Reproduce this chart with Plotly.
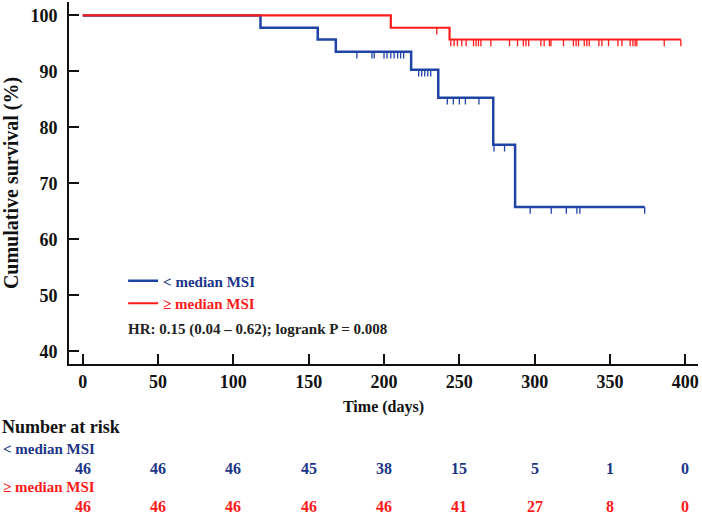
import numpy as np
import plotly.graph_objects as go

# ---------------- data ----------------
blue_name = "< median MSI"
red_name = "≥ median MSI"

blue_time = [0, 118, 156, 168, 218, 236, 272.5, 287, 373]
blue_surv = [100, 97.8, 95.7, 93.5, 90.3, 85.3, 76.9, 65.8, 65.8]
blue_censor = [182, 192, 193.5, 200, 202, 204.5, 206.7, 209, 211, 213,
               223, 225, 227, 229, 231,
               242, 246, 250, 254, 263,
               273, 280,
               297, 311, 321, 328, 330, 373]

red_time = [0, 204.5, 243.5, 397]
red_surv = [100, 97.8, 95.7, 95.7]
red_censor = [235, 244.3, 246.5, 248.7, 251.6, 254.5, 259.4, 261.1, 262.7, 264.3,
              270.9, 283.3, 288.6, 292.5, 294.2, 296, 304.1, 306.3, 309.8, 310.8,
              319.1, 325.7, 327.5, 329.1, 332.9, 334.6, 336.2, 342.6, 344.6, 349,
              355.2, 357.9, 363.4, 365.2, 366.7, 367.8, 386, 397]

risk_times = [0, 50, 100, 150, 200, 250, 300, 350, 400]
blue_risk = [46, 46, 46, 45, 38, 15, 5, 1, 0]
red_risk = [46, 46, 46, 46, 46, 41, 27, 8, 0]

x_ticks = [0, 50, 100, 150, 200, 250, 300, 350, 400]
y_ticks = [40, 50, 60, 70, 80, 90, 100]

hr_text = "HR: 0.15 (0.04 – 0.62); logrank P = 0.008"

# ---------------- style ----------------
BLUE = "#1f44a6"
BLUE_TXT = "#1b3588"
RED = "#ff1a1a"
FONT = "Liberation Serif"
TICK_LEN = 1.2


def surv_at(times, survs, t):
    idx = np.searchsorted(np.array(times), t, side="right") - 1
    return survs[max(idx, 0)]


def censor_segments(times, survs, cens):
    xs, ys = [], []
    for c in cens:
        s = surv_at(times, survs, c)
        xs += [c, c, None]
        ys += [s, s - TICK_LEN, None]
    return xs, ys


fig = go.Figure()

for name, t, s, cens, col, txtcol, w in [
    (blue_name, blue_time, blue_surv, blue_censor, BLUE, BLUE_TXT, 2.5),
    (red_name, red_time, red_surv, red_censor, RED, RED, 2.2),
]:
    cx, cy = censor_segments(t, s, cens)
    fig.add_trace(go.Scatter(x=cx, y=cy, mode="lines", line=dict(color=col, width=1.3),
                             showlegend=False, hoverinfo="skip"))
    label = name.replace("<", "&lt;")
    fig.add_trace(go.Scatter(x=t, y=s, mode="lines", line=dict(color=col, width=w, shape="hv"),
                             name=f"<span style='color:{txtcol}'><b>{label}</b></span>"))

# HR annotation
fig.add_annotation(x=28.5, y=43.9, xref="x", yref="y", text=f"<b>{hr_text}</b>",
                   showarrow=False, xanchor="left", yanchor="middle",
                   font=dict(family=FONT, size=15, color="#222222"))

# Number at risk table
PLOT_TOP = 2
PLOT_H = 362


def py(pix):
    return (PLOT_TOP + PLOT_H - pix) / PLOT_H


def px(pix):
    return (pix - 69) / 629


fig.add_annotation(x=px(0), y=py(427), xref="paper", yref="paper", text="<b>Number at risk</b>",
                   showarrow=False, xanchor="left", yanchor="middle",
                   font=dict(family=FONT, size=18, color="#111111"))
fig.add_annotation(x=px(1), y=py(449), xref="paper", yref="paper",
                   text="<b>" + blue_name.replace("<", "&lt;") + "</b>",
                   showarrow=False, xanchor="left", yanchor="middle",
                   font=dict(family=FONT, size=15, color=BLUE_TXT))
fig.add_annotation(x=px(1), y=py(487), xref="paper", yref="paper",
                   text="<b>" + red_name + "</b>",
                   showarrow=False, xanchor="left", yanchor="middle",
                   font=dict(family=FONT, size=15, color=RED))
for t, b, r in zip(risk_times, blue_risk, red_risk):
    fig.add_annotation(x=t, y=py(468), xref="x", yref="paper", text=f"<b>{b}</b>",
                       showarrow=False, xanchor="center", yanchor="middle",
                       font=dict(family=FONT, size=16, color=BLUE_TXT))
    fig.add_annotation(x=t, y=py(506), xref="x", yref="paper", text=f"<b>{r}</b>",
                       showarrow=False, xanchor="center", yanchor="middle",
                       font=dict(family=FONT, size=16, color=RED))

fig.update_layout(
    width=702, height=518,
    margin=dict(l=69, r=4, t=PLOT_TOP, b=518 - PLOT_TOP - PLOT_H),
    paper_bgcolor="white", plot_bgcolor="white",
    font=dict(family=FONT, color="#111111"),
    showlegend=True,
    legend=dict(x=0.086, y=py(292), xanchor="left", yanchor="middle",
                bgcolor="rgba(0,0,0,0)", font=dict(family=FONT, size=15),
                tracegroupgap=0, itemwidth=30),
    xaxis=dict(range=[-9.1, 408.4], tickvals=x_ticks, ticktext=[f"<b>{v}</b>" for v in x_ticks],
               showgrid=False, zeroline=False, showline=True, linecolor="#111111", linewidth=2,
               ticks="inside", ticklen=10, tickwidth=2, tickcolor="#111111",
               tickfont=dict(family=FONT, size=18, color="#111111"),
               title=dict(text="<b>Time (days)</b>", font=dict(family=FONT, size=16, color="#111111"),
                          standoff=10)),
    yaxis=dict(range=[37.75, 102.4], tickvals=y_ticks, ticktext=[f"<b>{v}</b>" for v in y_ticks],
               showgrid=False, zeroline=False, showline=True, linecolor="#111111", linewidth=2,
               ticks="inside", ticklen=10, tickwidth=2, tickcolor="#111111",
               ticklabelstandoff=6,
               tickfont=dict(family=FONT, size=18, color="#111111"),
               title=dict(text="<b>Cumulative survival (%)</b>",
                          font=dict(family=FONT, size=20, color="#111111"), standoff=8)),
)

fig.write_html("out.html", config={"displayModeBar": False},
               post_script="document.body.style.margin='0px';document.body.style.padding='0px';")
